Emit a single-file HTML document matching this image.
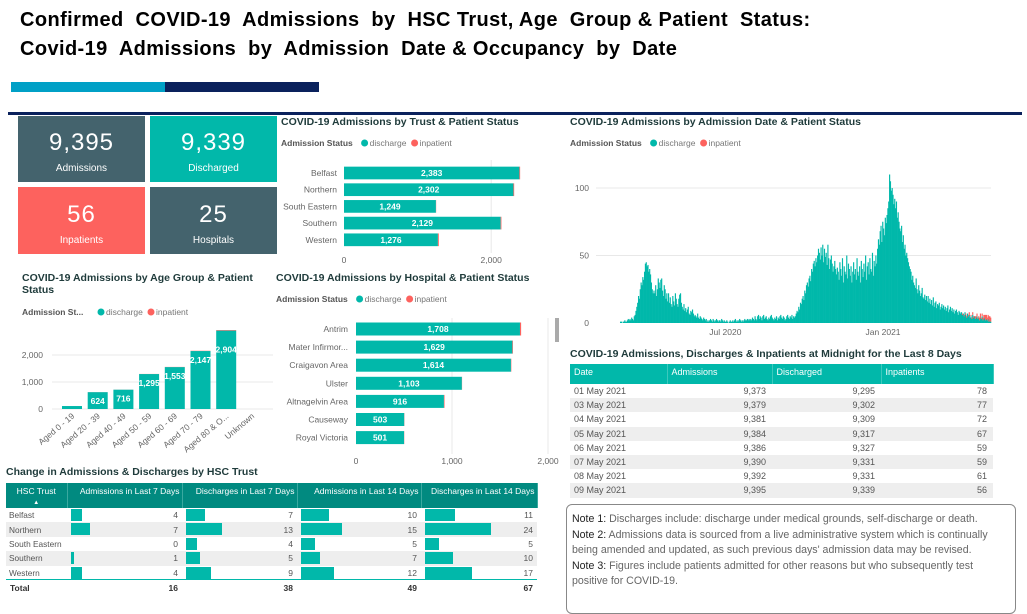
<!DOCTYPE html>
<html><head><meta charset="utf-8">
<style>
*{margin:0;padding:0;box-sizing:border-box}
body{width:1027px;height:607px;background:#fff;position:relative;overflow:hidden;font-family:"Liberation Sans",sans-serif}
.abs{position:absolute}
.h1{font-family:"Liberation Sans Narrow","Liberation Sans",sans-serif;font-weight:bold;font-size:20px;color:#000;left:20px;white-space:nowrap;letter-spacing:0.4px}
.kpi{position:absolute;color:#fff;text-align:center}
.kpi .n{position:absolute;left:0;right:0;font-size:24px;letter-spacing:1px}
.kpi .l{position:absolute;left:0;right:0;font-size:10px}
.ttl{position:absolute;font-size:10.5px;font-weight:bold;color:#1f3b3b;white-space:nowrap}
table{border-collapse:collapse}
td{white-space:nowrap;overflow:hidden}
svg{position:absolute;left:0;top:0}
.note{position:absolute;left:566px;top:504px;width:450px;height:110px;border:1px solid #888;border-radius:6px;padding:7px 5px;font-size:10.6px;color:#666;line-height:15.6px}
.note b{font-weight:normal;color:#222}
</style></head><body>
<div class="abs h1" style="top:9px">Confirmed&nbsp; COVID-19&nbsp; Admissions&nbsp; by&nbsp; HSC Trust, Age&nbsp; Group &amp; Patient&nbsp; Status:</div>
<div class="abs h1" style="top:38px">Covid-19&nbsp; Admissions&nbsp; by&nbsp; Admission&nbsp; Date &amp; Occupancy&nbsp; by&nbsp; Date</div>
<div class="abs" style="left:11px;top:82px;width:154px;height:10px;background:#00a0c6"></div>
<div class="abs" style="left:165px;top:82px;width:154px;height:10px;background:#0a215c"></div>
<div class="abs" style="left:8px;top:112px;width:1014px;height:3px;background:#0a215c"></div>

<div class="kpi" style="left:18px;top:116px;width:127px;height:66px;background:#44636d"><div class="n" style="top:13px">9,395</div><div class="l" style="top:47px">Admissions</div></div>
<div class="kpi" style="left:150px;top:116px;width:127px;height:66px;background:#01b8aa"><div class="n" style="top:13px">9,339</div><div class="l" style="top:47px">Discharged</div></div>
<div class="kpi" style="left:18px;top:187px;width:127px;height:67px;background:#fd625e"><div class="n" style="top:14px">56</div><div class="l" style="top:48px">Inpatients</div></div>
<div class="kpi" style="left:150px;top:187px;width:127px;height:67px;background:#44636d"><div class="n" style="top:14px">25</div><div class="l" style="top:48px">Hospitals</div></div>

<div class="ttl" style="left:281px;top:116px">COVID-19 Admissions by Trust &amp; Patient Status</div>
<div class="ttl" style="left:22px;top:272px">COVID-19 Admissions by Age Group &amp; Patient<br>Status</div>
<div class="ttl" style="left:276px;top:272px">COVID-19 Admissions by Hospital &amp; Patient Status</div>
<div class="ttl" style="left:570px;top:116px">COVID-19 Admissions by Admission Date &amp; Patient Status</div>
<div class="ttl" style="left:570px;top:348px">COVID-19 Admissions, Discharges &amp; Inpatients at Midnight for the Last 8 Days</div>
<div class="ttl" style="left:6px;top:466px">Change in Admissions &amp; Discharges by HSC Trust</div>

<svg id="charts" width="1027" height="607"></svg>

<div id="midTable" class="abs" style="left:570px;top:364px"></div>
<div id="chgTable" class="abs" style="left:6px;top:483px"></div>
<div class="abs" style="left:555px;top:318px;width:4px;height:24px;background:#aaa"></div>

<div class="note"><b>Note 1:</b> Discharges include: discharge under medical grounds, self-discharge or death.<br><b>Note 2:</b> Admissions data is sourced from a live administrative system which is continually being amended and updated, as such previous days' admission data may be revised.<br><b>Note 3:</b> Figures include patients admitted for other reasons but who subsequently test positive for COVID-19.</div>

<script>
const trustNames=["Belfast","Northern","South Eastern","Southern","Western"];
const trustDischarge=[2383,2302,1249,2129,1276];
const trustInpatient=[10,10,3,10,12];
const trustTicks=[0,2000];

const ageNames=["Aged 0 - 19","Aged 20 - 39","Aged 40 - 49","Aged 50 - 59","Aged 60 - 69","Aged 70 - 79","Aged 80 & O...","Unknown"];
const ageDischarge=[110,624,716,1295,1553,2147,2904,0];
const ageInpatient=[0,2,2,4,6,10,20,0];
const ageTicks=[0,1000,2000];

const hospNames=["Antrim","Mater Infirmor...","Craigavon Area","Ulster","Altnagelvin Area","Causeway","Royal Victoria"];
const hospDischarge=[1708,1629,1614,1103,916,503,501];
const hospInpatient=[12,6,4,2,6,2,2];
const hospTicks=[0,1000,2000];

const dailyDischarge=[
0,0,0,0,0,0,0,0,0,0,0,0,0,0,0,0,0,0,0,0,0,0,0,0,0,0,0,0,1,1,0,1,1,2,1,1,
2,3,2,3,2,4,3,2,5,
6,9,12,15,20,18,25,30,28,34,32,
38,44,45,42,43,38,40,36,
30,25,22,24,22,28,20,25,
33,30,26,32,33,24,20,28,25,18,22,16,
22,15,19,14,12,20,16,13,22,18,14,12,
18,21,22,15,12,10,14,
9,11,8,10,12,7,6,9,8,10,7,5,
6,5,4,7,4,3,5,4,3,2,4,3,2,3,1,2,
1,2,3,2,1,3,2,1,2,3,2,1,2,2,1,3,2,1,2,1,1,2,1,0,1,2,1,1,2,1,2,3,1,2,1,2,3,2,1,2,
1,2,3,2,2,3,2,3,2,3,2,4,3,2,5,3,2,5,6,3,5,4,2,5,6,3,4,5,3,2,4,3,5,6,4,3,2,4,3,5,
2,4,3,5,6,4,3,5,4,2,3,5,6,4,3,5,4,6,3,5,4,
5,7,9,8,12,10,15,14,18,20,17,24,22,28,30,27,33,35,31,40,38,44,46,42,
48,45,50,55,52,47,56,50,58,45,55,49,52,43,58,48,40,47,50,44,38,42,46,40,36,41,38,
32,45,40,35,48,30,42,38,36,50,33,44,40,35,42,30,38,45,36,40,32,48,38,35,42,30,46,40,
34,44,38,50,32,42,45,36,48,40,38,52,35,46,42,50,44,
55,62,58,68,72,60,75,70,65,78,74,80,85,90,
110,
105,98,100,95,88,92,85,90,78,82,75,70,
68,72,60,65,55,58,50,52,48,45,42,40,
38,32,35,30,28,26,33,25,22,28,24,20,22,26,19,18,21,17,20,16,
20,15,18,14,17,13,19,12,15,16,11,14,13,15,10,12,14,11,13,10,12,9,11,13,8,10,12,9,11,8,10,7,9,10,8,6,9,8,7,
8,6,7,5,8,6,4,7,5,6,4,5,3,6,4,5,3,4,5,3,4,2,4,3,5,2,3,4,2,3,2,3,1,2,1];
const dailyInpatientTail=[0,1,0,1,0,1,1,0,1,2,0,1,1,2,1,0,2,1,2,1,1,2,3,1,2,2,3,2,4,3,2,3,4,3,3];
const dateTickLabels=["Jul 2020","Jan 2021"];
const dateTickIndex=[151,335];
const dateYTicks=[0,50,100];

const midDates=["01 May 2021","03 May 2021","04 May 2021","05 May 2021","06 May 2021","07 May 2021","08 May 2021","09 May 2021"];
const midAdm=[9373,9379,9381,9384,9386,9390,9392,9395];
const midDis=[9295,9302,9309,9317,9327,9331,9331,9339];
const midInp=[78,77,72,67,59,59,61,56];

const chgTrusts=["Belfast","Northern","South Eastern","Southern","Western"];
const chgAdm7=[4,7,0,1,4];
const chgDis7=[7,13,4,5,9];
const chgAdm14=[10,15,5,7,12];
const chgDis14=[11,24,5,10,17];

const TEAL="#01b8aa",RED="#fd625e",GRID="#e8e8e8",LBL="#666";
const svg=document.getElementById('charts');
const NS="http://www.w3.org/2000/svg";
function mk(tag,attrs,text){const e=document.createElementNS(NS,tag);for(const k in attrs)e.setAttribute(k,attrs[k]);if(text!==undefined)e.textContent=text;svg.appendChild(e);return e;}
const fmt=v=>v.toLocaleString('en-US');

function legend(x,y,label,nm){
  const t=mk('text',{x:x,y:y,'font-size':8.5,fill:'#555','font-weight':'bold'},label);
  
  
  const w=label.length*4.6+6;
  const c1=mk('circle',{cx:x+w+4,cy:y-3,r:3.5,fill:TEAL});
  
  
  mk('text',{x:x+w+9,y:y,'font-size':8.5,fill:'#777'},'discharge');
  const c2=mk('circle',{cx:x+w+54,cy:y-3,r:3.5,fill:RED});
  
  
  mk('text',{x:x+w+59,y:y,'font-size':8.5,fill:'#777'},'inpatient');
}

function hbar(names,dis,inp,ticks,x0,scale,y0,step,h,labelX,axisY,gTop,nm){
  const xs=v=>x0+v*scale;
  ticks.forEach(t=>{
    if(t>0){const g=mk('line',{x1:xs(t),x2:xs(t),y1:gTop,y2:axisY-10,stroke:GRID});}
    const tl=mk('text',{x:xs(t),y:axisY,'font-size':8.5,fill:LBL,'text-anchor':'middle'},fmt(t));
    
    
  });
  names.forEach((n,i)=>{
    const cy=y0+i*step;
    const lb=mk('text',{x:labelX,y:cy+3,'font-size':8.5,fill:LBL,'text-anchor':'end'},n);
    
    
    const r=mk('rect',{x:xs(0),y:cy-h/2,width:dis[i]*scale,height:h,fill:TEAL});
    
    
    const r2=mk('rect',{x:xs(dis[i]),y:cy-h/2,width:inp[i]*scale,height:h,fill:RED});
    
    
    const vl=mk('text',{x:xs(0)+dis[i]*scale/2,y:cy+3,'font-size':8.5,fill:'#fff','font-weight':'bold','text-anchor':'middle'},fmt(dis[i]));
    
    
  });
}
legend(281,146,'Admission Status','trust');
hbar(trustNames,trustDischarge,trustInpatient,trustTicks,344,0.0736,173,16.7,12.7,337,263,160,'trust');
legend(276,302,'Admission Status','hospital');
hbar(hospNames,hospDischarge,hospInpatient,hospTicks,356,0.096,329,18.1,13,348,464,318,'hospital');

legend(22,315,'Admission St...','age');
(function(){
  const y0=409,sc=0.027,x0=62,step=25.7,w=20;
  const ys=v=>y0-v*sc;
  ageTicks.forEach(t=>{
    const g=mk('line',{x1:52,x2:273,y1:ys(t),y2:ys(t),stroke:GRID});
    
    
    const tl=mk('text',{x:43,y:ys(t)+3,'font-size':8.5,fill:LBL,'text-anchor':'end'},fmt(t));
    
    
  });
  ageNames.forEach((n,i)=>{
    const x=x0+i*step,cx=x+w/2;
    if(ageDischarge[i]>0){
      const r=mk('rect',{x:x,y:ys(ageDischarge[i]),width:w,height:ageDischarge[i]*sc,fill:TEAL});
      
      
      const r2=mk('rect',{x:x,y:ys(ageDischarge[i]+ageInpatient[i]),width:w,height:ageInpatient[i]*sc,fill:RED});
      
      
    }
    if(ageDischarge[i]>300){
      const vl=mk('text',{x:cx,y:ageDischarge[i]>2500?ys(ageDischarge[i])+22:ys(ageDischarge[i])+12,'font-size':8.5,fill:'#fff','font-weight':'bold','text-anchor':'middle'},fmt(ageDischarge[i]));
      
      
    }
    const xl=mk('text',{x:cx+3,y:417,'font-size':8.5,fill:LBL,'text-anchor':'end',transform:`rotate(-40 ${cx+3} 417)`},n);
    
    
  });
})();

legend(570,146,'Admission Status','date');
(function(){
  const xL=596,xR=991,y0=323,sc=1.35,n=dailyDischarge.length,bw=(xR-xL)/n;
  const xs=i=>xL+i*bw, ys=v=>y0-v*sc;
  dateYTicks.forEach(t=>{
    if(t>0){const g=mk('line',{x1:xL,x2:xR,y1:ys(t),y2:ys(t),stroke:GRID});}
    const tl=mk('text',{x:589,y:ys(t)+3,'font-size':8.5,fill:LBL,'text-anchor':'end'},t);
    
    
  });
  dailyDischarge.forEach((v,i)=>{
    const r=mk('rect',{x:xs(i),y:ys(v),width:bw+0.3,height:v*sc,fill:TEAL});
    
    
  });
  const off=n-dailyInpatientTail.length;
  dailyInpatientTail.forEach((v,j)=>{
    if(!v)return;const i=off+j;
    const r=mk('rect',{x:xs(i),y:ys(dailyDischarge[i]+v),width:bw+0.3,height:v*sc,fill:RED});
    
    
  });
  dateTickLabels.forEach((l,k)=>{
    const tl=mk('text',{x:xs(dateTickIndex[k]),y:335,'font-size':8.5,fill:LBL,'text-anchor':'middle'},l);
    
    
  });
})();

(function(){
  const cols=[97,105,109,112];
  let h='<table style="font-size:9px;color:#555;width:423px;table-layout:fixed">';
  h+='<tr style="background:#01b8aa;color:#fff;height:20px">';
  ['Date','Admissions','Discharged','Inpatients'].forEach((c,i)=>h+=`<th style="width:${cols[i]}px;text-align:left;font-weight:normal;padding:0 4px;vertical-align:top;padding-top:3px;border-right:1px solid #3cc9bd">${c}</th>`);
  h+='</tr>';
  midDates.forEach((d,i)=>{
    h+=`<tr style="height:14.2px;background:${i%2?'#eeeeee':'#fff'}"><td style="padding:0 4px">${d}</td><td style="text-align:right;padding:0 6px">${fmt(midAdm[i])}</td><td style="text-align:right;padding:0 6px">${fmt(midDis[i])}</td><td style="text-align:right;padding:0 6px">${midInp[i]}</td></tr>`;
  });
  h+='</table>';
  document.getElementById('midTable').innerHTML=h;
})();

(function(){
  const cols=[61,115,115,124,116];
  const arrs=[chgAdm7,chgDis7,chgAdm14,chgDis14];
  const hdr=['HSC Trust','Admissions in Last 7 Days','Discharges in Last 7 Days','Admissions in Last 14 Days','Discharges in Last 14 Days'];
  let h='<table style="font-size:8.5px;color:#555;width:531px;table-layout:fixed">';
  h+='<tr style="background:#018a80;color:#fff;height:20px">';
  hdr.forEach((c,i)=>h+=`<th style="width:${cols[i]}px;font-weight:normal;padding:0 2px;text-align:${i?'right':'center'};white-space:nowrap;border-right:1px solid #3aa9a0;vertical-align:top;padding-top:3px;line-height:10px">${c}${i?'':'<br><span style="font-size:6px">&#9650;</span>'}</th>`);
  h+='</tr>';
  chgTrusts.forEach((t,r)=>{
    h+=`<tr style="height:14.4px;background:${r%2?'#eeeeee':'#fff'}"><td style="padding:0 3px;font-size:8.3px">${t}</td>`;
    arrs.forEach(a=>{h+=`<td style="position:relative;text-align:right;padding:0 4px"><div style="position:absolute;left:4px;top:1px;height:12px;width:${a[r]*2.75}px;background:#01b8aa"></div><span style="position:relative">${a[r]}</span></td>`;});
    h+='</tr>';
  });
  h+='<tr style="height:16px;border-top:1px solid #01b8aa;font-weight:bold;color:#333"><td style="padding:0 4px">Total</td>';
  arrs.forEach(a=>h+=`<td style="text-align:right;padding:0 4px">${a.reduce((s,v)=>s+v,0)}</td>`);
  h+='</tr></table>';
  document.getElementById('chgTable').innerHTML=h;
})();
</script>
</body></html>
